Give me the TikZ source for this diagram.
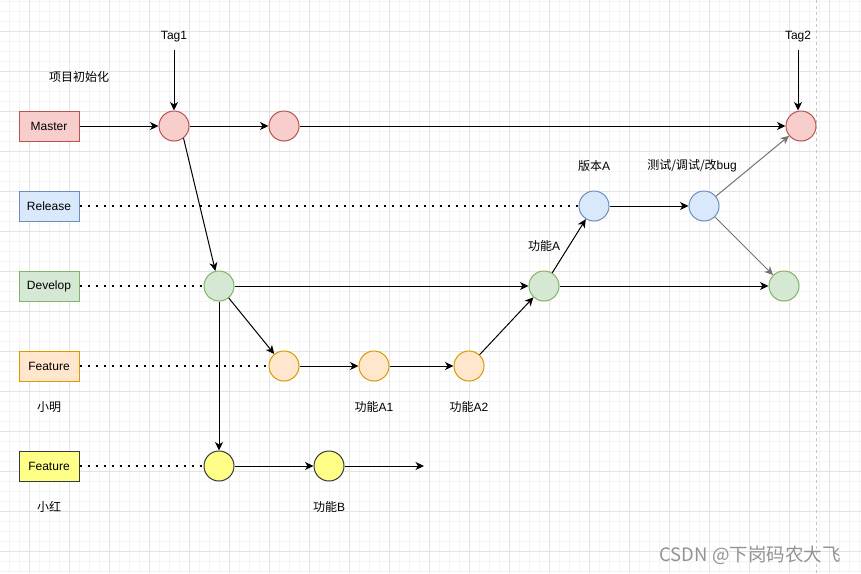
\documentclass[tikz,border=0pt]{standalone}
\usepackage{fontspec}
\setmainfont{Liberation Sans}
\newfontfamily\cjk{Noto Sans CJK SC}
\usetikzlibrary{arrows.meta}

\definecolor{redfill}{HTML}{F8CECC}\definecolor{redline}{HTML}{B85450}
\definecolor{bluefill}{HTML}{DAE8FC}\definecolor{blueline}{HTML}{6C8EBF}
\definecolor{greenfill}{HTML}{D5E8D4}\definecolor{greenline}{HTML}{82B366}
\definecolor{orangefill}{HTML}{FFE6CC}\definecolor{orangeline}{HTML}{D79B00}
\definecolor{yellowfill}{HTML}{FFFF88}\definecolor{yellowline}{HTML}{36393D}

\begin{document}
\begin{tikzpicture}[
      x=1pt, y=-1pt,
      font=\fontsize{12}{14}\selectfont,
      branch/.style={draw, line width=1pt, minimum width=60pt,
        minimum height=30pt, inner sep=0pt},
      commit/.style={circle, draw, line width=1pt, minimum size=30pt,
        inner sep=0pt},
      red/.style={draw=redline, fill=redfill},
      blue/.style={draw=blueline, fill=bluefill},
      green/.style={draw=greenline, fill=greenfill},
      orange/.style={draw=orangeline, fill=orangefill},
      yellow/.style={draw=yellowline, fill=yellowfill},
      arrow/.style={-{Stealth[length=8.5pt, width=8pt, inset=2.5pt]},
        line width=1pt, draw=black},
      merge/.style={arrow, draw=black!55},
      track/.style={line width=2pt, dash pattern=on 2pt off 6pt},
      minorgrid/.style={draw=gray!9, line width=1pt},
      majorgrid/.style={draw=gray!22, line width=1pt}
    ]
    \useasboundingbox (0,0) rectangle (861,573);
    \fill[white] (0,0) rectangle (861,573);

    % grid
    \foreach \x in {9.5,19.5,...,861} \draw[minorgrid] (\x,0) -- (\x,573);
    \foreach \y in {1.5,11.5,...,573} \draw[minorgrid] (0,\y) -- (861,\y);
    \foreach \x in {29.5,69.5,...,861} \draw[majorgrid] (\x,0) -- (\x,573);
    \foreach \y in {31.5,71.5,...,573} \draw[majorgrid] (0,\y) -- (861,\y);
    \draw[gray!45, line width=1pt, dash pattern=on 3pt off 3pt] (816.5,0) -- (816.5,573);

    % branches
    \node[branch, red] (master) at (49,126) {Master};
    \node[branch, blue] (release) at (49,206) {Release};
    \node[branch, green] (develop) at (49,286) {Develop};
    \node[branch, orange] (feature) at (49,366) {Feature};
    \node[branch, yellow] (featureb) at (49,466) {Feature};

    % commits
    \node[commit, red] (m1) at (174,126) {};
    \node[commit, red] (m2) at (284,126) {};
    \node[commit, red] (m3) at (801,126) {};
    \node[commit, blue] (r1) at (594,206) {};
    \node[commit, blue] (r2) at (704,206) {};
    \node[commit, green] (d1) at (219,286) {};
    \node[commit, green] (d2) at (544,286) {};
    \node[commit, green] (d3) at (784,286) {};
    \node[commit, orange] (fa1) at (284,366) {};
    \node[commit, orange] (fa2) at (374,366) {};
    \node[commit, orange] (fa3) at (469,366) {};
    \node[commit, yellow] (fb1) at (219,466) {};
    \node[commit, yellow] (fb2) at (329,466) {};
    \coordinate (fbend) at (424,466);

    % labels
    \node (tagone) at (174,37) {Tag1};
    \node (tagtwo) at (798,37) {Tag2};
    \node (init) at (79,77) {\cjk 项目初始化};
    \node (verA) at (594,166) {{\cjk 版本}A};
    \node (fix) at (692,166) {{\cjk 测试/调试/改}bug};
    \node (funcA) at (544,246) {{\cjk 功能}A};
    \node (xiaoming) at (49,407) {\cjk 小明};
    \node (funcAone) at (374,407) {{\cjk 功能}A1};
    \node (funcAtwo) at (469,407) {{\cjk 功能}A2};
    \node (xiaohong) at (49,507) {\cjk 小红};
    \node (funcB) at (329,507) {{\cjk 功能}B};
    \node[text=gray!85, font=\cjk\fontsize{18.5}{20}\selectfont] (mark) at (750,555)
      {CSDN @下岗码农大飞};

    % connectors
    \draw[arrow, shorten <=4pt] (tagone.south) -- (m1);
    \draw[arrow, shorten <=4pt] (tagtwo.south) -- (tagtwo.south |- m3.north);
    \draw[arrow] (master) -- (m1);
    \draw[arrow] (m1) -- (m2);
    \draw[arrow] (m2) -- (m3);
    \draw[arrow] (m1.-52) -- (d1);
    \draw[track] (release) -- (r1);
    \draw[arrow] (r1) -- (r2);
    \draw[merge] (r2) -- (m3);
    \draw[merge] (r2) -- (d3);
    \draw[track] (develop) -- (d1);
    \draw[arrow] (d1) -- (d2);
    \draw[arrow] (d2) -- (d3);
    \draw[arrow] (d2) -- (r1);
    \draw[arrow] (d1) -- (fa1);
    \draw[arrow] (d1) -- (fb1);
    \draw[track] (feature) -- (fa1);
    \draw[arrow] (fa1) -- (fa2);
    \draw[arrow] (fa2) -- (fa3);
    \draw[arrow] (fa3) -- (d2);
    \draw[track] (featureb) -- (fb1);
    \draw[arrow] (fb1) -- (fb2);
    \draw[arrow] (fb2) -- (fbend);
  \end{tikzpicture}
\end{document}
